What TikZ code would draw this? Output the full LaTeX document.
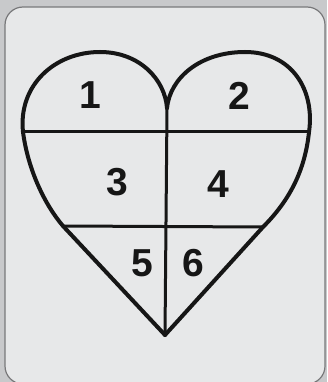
\documentclass[tikz,border=0pt]{standalone}
\usepackage{fontspec}
\setmainfont{Liberation Sans}
\definecolor{outerbg}{RGB}{200,201,203}
\definecolor{panelbg}{RGB}{231,232,233}
\definecolor{panelborder}{RGB}{120,120,122}
\definecolor{ink}{RGB}{22,22,22}
\tikzset{
  heartline/.style={draw=ink, line width=4pt, line join=round, line cap=round},
  divline/.style={draw=ink, line width=3pt, line cap=round},
  num/.style={font=\fontsize{39}{42}\selectfont\bfseries, text=ink, inner sep=0pt}
}
\begin{document}
\begin{tikzpicture}[x=1pt,y=-1pt]
\useasboundingbox (0,0) rectangle (327,382);
\fill[outerbg] (0,0) rectangle (327,382);
\draw[fill=panelbg, draw=panelborder, line width=1.2pt, rounded corners=18pt]
  (5,7) rectangle (325,384);
% key points
\coordinate (L) at (23,132);
\coordinate (R) at (309,132);
\coordinate (C) at (167,108);
\coordinate (BL) at (63,226);
\coordinate (BR) at (263,227);
\coordinate (T) at (165,335);
% dividers
\draw[divline] (L) -- (R);
\draw[divline] (BL) -- (BR);
\draw[divline] (C) -- (T);
% heart outline
\draw[heartline] (L) .. controls (18,85) and (55,52) .. (100,52)
  .. controls (140,52) and (165,80) .. (C);
\draw[heartline] (C) .. controls (170,78) and (200,52) .. (245,52)
  .. controls (292,52) and (315,90) .. (R);
\draw[heartline] (R) .. controls (305,170) and (290,200) .. (BR) -- (T);
\draw[heartline] (L) .. controls (28,170) and (45,205) .. (BL) -- (T);
% labels
\node[num] (n1) at (90,95) {1};
\node[num] (n2) at (239,96) {2};
\node[num] (n3) at (117,182) {3};
\node[num] (n4) at (218,184) {4};
\node[num] (n5) at (142,263) {5};
\node[num] (n6) at (193,263) {6};
\end{tikzpicture}
\end{document}
